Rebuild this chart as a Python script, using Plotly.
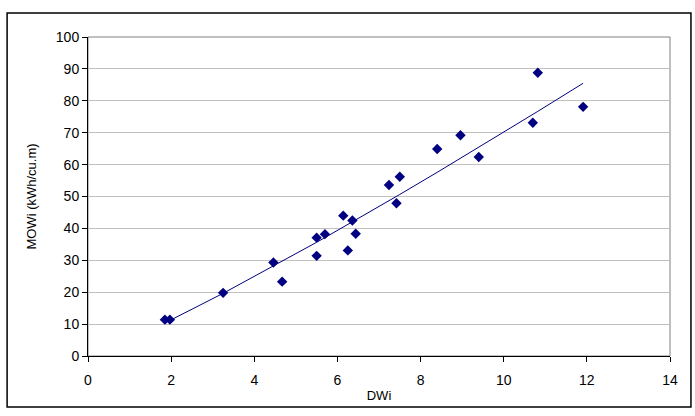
import numpy as np
import plotly.graph_objects as go

dwi = [1.85, 1.97, 3.25, 4.46, 4.67, 5.50, 5.50, 5.70, 6.14, 6.25, 6.36, 6.44,
       7.24, 7.42, 7.50, 8.40, 8.96, 9.40, 10.70, 10.82, 11.91]
mowi = [11.4, 11.4, 19.8, 29.3, 23.3, 37.1, 31.4, 38.2, 44.0, 33.1, 42.5, 38.3,
        53.6, 47.9, 56.2, 64.9, 69.2, 62.4, 73.1, 88.8, 78.1]

x_ticks = [0, 2, 4, 6, 8, 10, 12, 14]
y_ticks = [0, 10, 20, 30, 40, 50, 60, 70, 80, 90, 100]

# power-law trendline (y = a * x^b) fitted to the data, drawn through the data x values
b, ln_a = np.polyfit(np.log(dwi), np.log(mowi), 1)
tx = np.array(sorted(set(dwi)))
ty = np.exp(ln_a) * tx ** b

navy = "#000080"
fig = go.Figure()
fig.add_trace(go.Scatter(x=tx, y=ty, mode="lines", line=dict(color=navy, width=1),
                         hoverinfo="skip", showlegend=False))
fig.add_trace(go.Scatter(x=dwi, y=mowi, mode="markers",
                         marker=dict(symbol="diamond", size=8, color=navy),
                         showlegend=False))

font = "Liberation Sans, Arial, sans-serif"
fig.update_layout(
    width=695, height=416,
    margin=dict(l=88, r=25, t=37, b=60),
    paper_bgcolor="white", plot_bgcolor="white",
    font=dict(family=font, size=14, color="black"),
    xaxis=dict(range=[0, 14], tickvals=x_ticks, showgrid=False, zeroline=False,
               showline=True, linecolor="black", linewidth=1,
               ticks="outside", ticklen=5, tickcolor="black", ticklabelstandoff=6,
               title=dict(text="DWi", font=dict(size=13), standoff=4)),
    yaxis=dict(range=[0, 100], tickvals=y_ticks, showgrid=True, gridcolor="#c0c0c0",
               zeroline=False, showline=True, linecolor="black", linewidth=1,
               ticks="outside", ticklen=5, tickcolor="black",
               title=dict(text="MOWi (kWh/cu.m)", font=dict(size=13), standoff=16)),
    shapes=[
        dict(type="rect", xref="paper", yref="paper", x0=0, x1=1, y0=0, y1=1,
             line=dict(color="#808080", width=1), layer="below"),
        dict(type="rect", xref="paper", yref="paper", x0=-0.139, x1=1.036,
             y0=-0.160, y1=1.075, line=dict(color="black", width=1.5)),
    ],
)
fig.write_html("out.html")
